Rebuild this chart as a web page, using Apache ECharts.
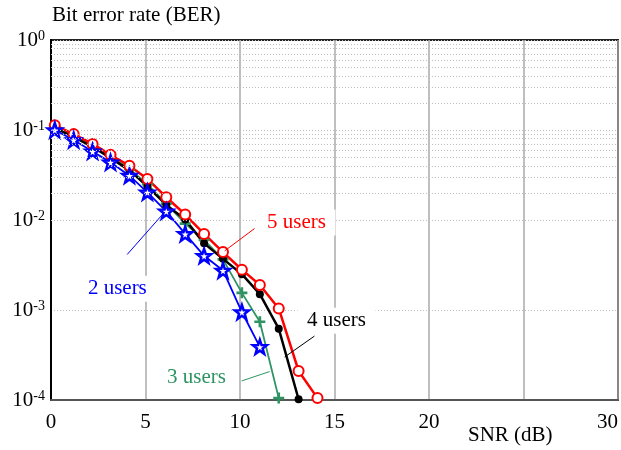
<!DOCTYPE html>
<html>
<head>
<meta charset="utf-8">
<script src="https://cdn.jsdelivr.net/npm/echarts@6/dist/echarts.min.js"></script>
<style>
  html, body { margin: 0; padding: 0; background: #fff; }
  #chart { width: 621px; height: 450px; }
</style>
</head>
<body>
<div id="chart"></div>
<script>
// SNR (dB) sample points, shared by every curve
var snr = [0.2, 1.2, 2.2, 3.15, 4.15, 5.1, 6.1, 7.1, 8.1, 9.1, 10.1, 11.05, 12.05, 13.1, 14.1];

// bit error rate per number of users
var ber5 = [0.113, 0.090, 0.070, 0.053, 0.040, 0.0286, 0.0179, 0.0115, 0.0070, 0.0044, 0.0028, 0.0019, 0.00104, 0.00021, 0.000105];
var ber4 = [0.105, 0.084, 0.065, 0.049, 0.0356, 0.0237, 0.0147, 0.0101, 0.0055, 0.0037, 0.0025, 0.0015, 0.00062, 0.000102];
var ber3 = [0.108, 0.086, 0.067, 0.051, 0.037, 0.025, 0.0152, 0.0091, 0.0060, 0.00365, 0.00155, 0.00074, 0.000105];
var ber2 = [0.100, 0.0774, 0.0578, 0.0437, 0.0311, 0.0203, 0.0125, 0.0070, 0.0040, 0.00275, 0.00095, 0.00039];

// x tick labels (25 is not printed in the original)
var xTicks = {0: '0', 5: '5', 10: '10', 15: '15', 20: '20', 25: '', 30: '30'};

// annotation text position and leader line, in data coords
var lab2 = {text: '2 users', at: [3.51, 0.00172], from: [6.02, 0.0123], to: [4.03, 0.00414]};
var lab3 = {text: '3 users', at: [7.70, 0.000178], from: [10.09, 0.000163], to: [11.57, 0.000207]};
var lab4 = {text: '4 users', at: [15.11, 0.000760], from: [13.94, 0.000513], to: [12.36, 0.000300]};
var lab5 = {text: '5 users', at: [12.99, 0.00940], from: [9.19, 0.00454], to: [10.77, 0.00804]};

var FONT = 'Liberation Serif';
var RED = '#ff0000', BLACK = '#000000', GREEN = '#2e9463', BLUE = '#0000ff';
var STAR = 'path://M0,-10 L2.35,-3.24 L9.51,-3.09 L3.8,1.24 L5.88,8.09 L0,4 L-5.88,8.09 L-3.8,1.24 L-9.51,-3.09 L-2.35,-3.24 Z';
var PLUS = 'path://M-1.2,-5 H1.2 V-1.2 H5 V1.2 H1.2 V5 H-1.2 V1.2 H-5 V-1.2 H-1.2 Z';

function pairs(ys) {
  var out = [];
  for (var i = 0; i < ys.length; i++) out.push([snr[i], ys[i]]);
  return out;
}

// dotted minor grid lines at 2..9 of each decade
var minorVals = [];
for (var e = -4; e < 0; e++) {
  for (var m = 1; m <= 9; m++) minorVals.push(m * Math.pow(10, e));
}

function note(lab, color) {
  return {
    markPoint: {
      silent: true,
      symbol: 'rect',
      symbolSize: [78, 26],
      itemStyle: {color: '#fff', borderWidth: 0},
      label: {show: true, position: 'inside', formatter: '{b}', color: color, fontSize: 21, fontFamily: FONT},
      data: [{name: lab.text, coord: lab.at}]
    },
    markLine: {
      silent: true,
      symbol: ['none', 'none'],
      label: {show: false},
      lineStyle: {color: color, width: 1, type: 'solid'},
      data: [[{coord: lab.from}, {coord: lab.to}]]
    }
  };
}

function curve(name, ys, color, lw, symbol, size, fill, bw, lab) {
  var n = note(lab, color);
  return {
    name: name,
    type: 'line',
    data: pairs(ys),
    symbol: symbol,
    symbolSize: size,
    showAllSymbol: true,
    lineStyle: {color: color, width: lw},
    itemStyle: {color: fill, borderColor: color, borderWidth: bw},
    markPoint: n.markPoint,
    markLine: n.markLine,
    z: 3
  };
}

var myChart = echarts.init(document.getElementById('chart'));
myChart.setOption({
  animation: false,
  backgroundColor: '#fff',
  grid: {
    left: 51, right: 2, top: 40, bottom: 50,
    show: true, borderColor: '#222', borderWidth: 2
  },
  xAxis: {
    type: 'value',
    min: 0, max: 30, interval: 5,
    axisLine: {show: true, onZero: false, lineStyle: {color: '#555', width: 2}},
    axisTick: {show: false},
    axisLabel: {
      margin: 12, fontSize: 21, fontFamily: FONT, color: '#000',
      alignMaxLabel: 'right',
      formatter: function (v) { return xTicks[v] !== undefined ? xTicks[v] : ''; }
    },
    splitLine: {show: true, lineStyle: {color: '#aaa', width: 1.5}}
  },
  yAxis: {
    type: 'log', logBase: 10,
    min: 0.0001, max: 1,
    axisLine: {show: true, lineStyle: {color: '#000', width: 2}},
    axisTick: {show: false},
    axisLabel: {
      margin: 6,
      formatter: function (v) {
        return '{b|10}{s|' + Math.round(Math.log10(v)) + '}';
      },
      rich: {
        b: {fontSize: 21, fontFamily: FONT, color: '#000', lineHeight: 22},
        s: {fontSize: 14, fontFamily: FONT, color: '#000', verticalAlign: 'top', lineHeight: 22, padding: [0, 0, 12, 0]}
      }
    },
    splitLine: {show: true, lineStyle: {color: '#bdbdbd', width: 1, type: [1, 2]}}
  },
  series: [
    {
      name: 'minor grid',
      type: 'line',
      data: [],
      z: 1,
      markLine: {
        silent: true,
        symbol: ['none', 'none'],
        label: {show: false},
        lineStyle: {color: '#bdbdbd', width: 1, type: [1, 2]},
        data: minorVals.map(function (v) { return {yAxis: v}; })
      }
    },
    curve('3 users', ber3, GREEN, 1.8, PLUS, 11, GREEN, 0, lab3),
    curve('4 users', ber4, BLACK, 2.5, 'circle', 8, BLACK, 0, lab4),
    curve('5 users', ber5, RED, 2.5, 'circle', 10, '#fff', 2, lab5),
    curve('2 users', ber2, BLUE, 1.8, STAR, 14, '#fff', 2.5, lab2)
  ],
  graphic: [
    {type: 'text', left: 52, top: 5, style: {text: 'Bit error rate (BER)', fontSize: 21, fontFamily: FONT, fill: '#000'}},
    {type: 'text', left: 468, top: 425, style: {text: 'SNR (dB)', fontSize: 21, fontFamily: FONT, fill: '#000'}}
  ]
});
</script>
</body>
</html>
